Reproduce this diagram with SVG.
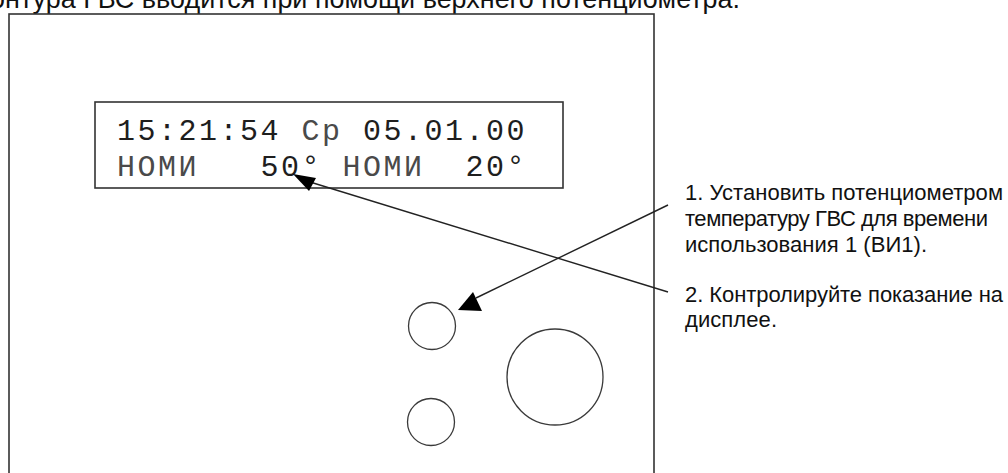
<svg xmlns="http://www.w3.org/2000/svg" width="1008" height="473" viewBox="0 0 1008 473">
<style>
.frame{fill:none;stroke:#333;stroke-width:1.6}
.knob{fill:none;stroke:#3a3a3a;stroke-width:1.3}
.lcd{font-family:"Liberation Mono",monospace;font-size:30px;letter-spacing:2.5px;fill:#1e1e1e}
.cyr{fill:#4a4a4a}
.note{font-family:"Liberation Sans",Arial,sans-serif;font-size:22px;fill:#111}
.head{font-family:"Liberation Sans",Arial,sans-serif;font-size:27px;fill:#111}
.conn{stroke:#222;stroke-width:1.4;fill:none}
.head-arrow{fill:#000}
</style>
<rect width="1008" height="473" fill="#fff"/>
<text class="head" x="-22" y="8" textLength="762" lengthAdjust="spacingAndGlyphs">контура ГВС вводится при помощи верхнего потенциометра.</text>
<g id="panel">
<rect class="frame" x="9" y="14" width="645" height="475"/>
</g>
<g id="display">
<rect class="frame" x="95" y="102" width="468" height="86"/>
<text class="lcd" x="117" y="140">15:21:54</text>
<text class="lcd cyr" x="301.5" y="140">Ср</text>
<text class="lcd" x="363" y="140">05.01.00</text>
<text class="lcd cyr" x="117" y="176">НОМИ</text>
<text class="lcd" x="260.5" y="176">50°</text>
<text class="lcd cyr" x="342.5" y="176">НОМИ</text>
<text class="lcd" x="465.5" y="176">20°</text>
</g>
<g id="knob-top">
<circle class="knob" cx="432" cy="326" r="23.5"/>
</g>
<g id="knob-bottom">
<circle class="knob" cx="431" cy="422" r="23.5"/>
</g>
<g id="knob-large">
<circle class="knob" cx="555" cy="377" r="48"/>
</g>
<g id="note1">
<text class="note" x="685" y="200" textLength="318" lengthAdjust="spacing">1. Установить потенциометром</text>
<text class="note" x="685" y="226" textLength="303" lengthAdjust="spacing">температуру ГВС для времени</text>
<text class="note" x="685" y="252" textLength="242" lengthAdjust="spacing">использования 1 (ВИ1).</text>
</g>
<g id="note2">
<text class="note" x="685" y="302" textLength="318" lengthAdjust="spacing">2. Контролируйте показание на</text>
<text class="note" x="685" y="327" textLength="92" lengthAdjust="spacing">дисплее.</text>
</g>
<g id="connectors">
<line class="conn" x1="668" y1="205" x2="476" y2="298"/>
<polygon class="head-arrow" points="458,310 482,311 473,292"/>
<line class="conn" x1="668" y1="292" x2="310" y2="182"/>
<polygon class="head-arrow" points="293,174 309,191 316,178"/>
</g>
</svg>
